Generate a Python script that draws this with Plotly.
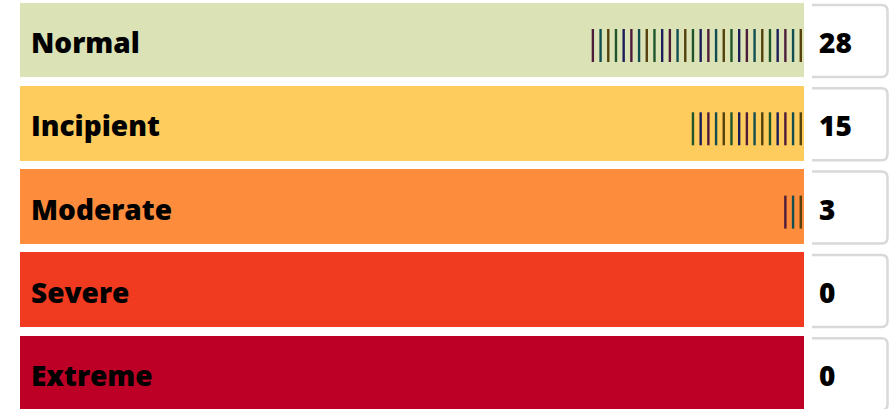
import plotly.graph_objects as go

# ---- data ----
categories = ["Normal", "Incipient", "Moderate", "Severe", "Extreme"]
counts = [28, 15, 3, 0, 0]
bar_colors = ["#dbe3b6", "#fecc5c", "#fd8d3c", "#f03b20", "#bd0026"]
tally_colors = ["#54400c", "#124d50", "#4d1c3a", "#1c1c58", "#1f552b"]

# ---- layout geometry (pixel based) ----
W, H = 889, 409
PX = 7.7            # pixels per tally unit on x
BAR_RIGHT = 804     # px, where x = 0
BAR_LEFT = 20
ROW_PITCH = 83.3
ROW0_CENTER = 40

x_range = [-BAR_RIGHT / PX, (W - BAR_RIGHT) / PX]
y_top = -ROW0_CENTER / ROW_PITCH
y_range = [y_top + H / ROW_PITCH, y_top]

def px_x(p):
    return (p - BAR_RIGHT) / PX

rows = list(range(len(categories)))

fig = go.Figure()

# background bars
fig.add_trace(go.Bar(
    y=rows, x=[(BAR_RIGHT - BAR_LEFT) / PX] * len(rows), base=px_x(BAR_LEFT),
    orientation="h", marker=dict(color=bar_colors, line=dict(width=0)),
    width=0.9, hoverinfo="skip", showlegend=False,
))

# tally marks
t_top, t_bot = -11 / ROW_PITCH, 22 / ROW_PITCH
seg = {c: ([], []) for c in tally_colors}
for r, n in zip(rows, counts):
    for k in range(n):
        x = -0.42 - k
        c = tally_colors[k % len(tally_colors)]
        seg[c][0].extend([x, x, None])
        seg[c][1].extend([r + t_top, r + t_bot, None])
for c, (xs, ys) in seg.items():
    fig.add_trace(go.Scatter(x=xs, y=ys, mode="lines",
                             line=dict(color=c, width=2.4),
                             hoverinfo="skip", showlegend=False))

# count boxes
bx0, bx1 = px_x(812), px_x(887.5)
rx, ry = 6 / PX, 6 / ROW_PITCH
shapes = []
for r in rows:
    y0, y1 = r - 35 / ROW_PITCH, r + 37 / ROW_PITCH
    path = (f"M {bx0},{y0} L {bx1 - rx},{y0} Q {bx1},{y0} {bx1},{y0 + ry} "
            f"L {bx1},{y1 - ry} Q {bx1},{y1} {bx1 - rx},{y1} L {bx0},{y1}")
    shapes.append(dict(type="path", path=path, xref="x", yref="y",
                       line=dict(color="#d9d9d9", width=2.5),
                       fillcolor="white", layer="below"))

font = dict(family="Open Sans", size=28, color="#000000", weight=800)
annotations = []
for r, cat, n in zip(rows, categories, counts):
    annotations.append(dict(x=px_x(28.5), y=r + 2 / ROW_PITCH, text=cat, xanchor="left",
                            yanchor="middle", showarrow=False, xref="x", yref="y",
                            font=font))
    annotations.append(dict(x=px_x(817), y=r + 2 / ROW_PITCH, text=str(n), xanchor="left",
                            yanchor="middle", showarrow=False, xref="x", yref="y",
                            font=font))

fig.update_layout(
    width=W, height=H, margin=dict(l=0, r=0, t=0, b=0),
    paper_bgcolor="white", plot_bgcolor="white",
    xaxis=dict(range=x_range, visible=False, fixedrange=True),
    yaxis=dict(range=y_range, visible=False, fixedrange=True),
    shapes=shapes, annotations=annotations, bargap=0,
)

fig.write_html("out.html")
